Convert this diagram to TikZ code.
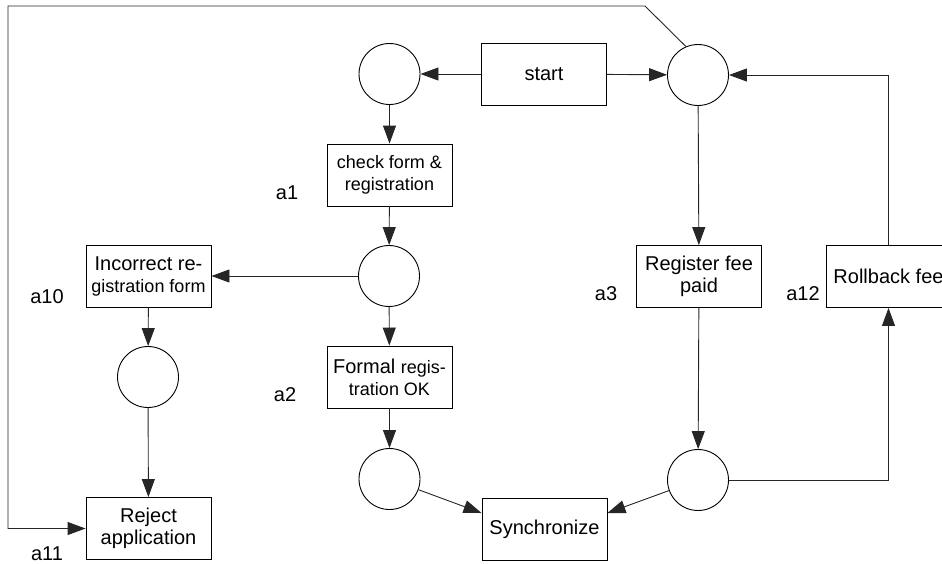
\documentclass[tikz,border=0pt]{standalone}
\usepackage{fontspec}
\setmainfont{Liberation Sans}
\usetikzlibrary{positioning,arrows.meta,calc}
\newcommand{\shrink}[1]{{\fontsize{18}{22}\selectfont #1}}

\begin{document}
\begin{tikzpicture}[
  x=1pt, y=-1pt,
  font=\fontsize{20}{22}\selectfont,
  place/.style={circle, draw, line width=0.9pt, minimum size=61pt, inner sep=0pt},
  trans/.style={draw, line width=0.9pt, minimum width=125pt, minimum height=62pt, align=center, inner sep=1pt},
  lbl/.style={inner sep=0pt},
  arr/.style={-{Triangle[length=18pt, width=13pt]}, line width=0.9pt, draw=black!85}]
  \useasboundingbox (0,0) rectangle (942,563);
  \clip (0,0) rectangle (942,563);
  % transitions
  \node[trans] (start) at (544,74) {start};
  \node[trans] (chk) at (389.5,175) {\shrink{check form \&}\\\shrink{registration}};
  \node[trans] (inc) at (148.5,276) {Incorrect re-\\\shrink{gistration form}};
  \node[trans] (rej) at (148.5,528.5) {Reject\\application};
  \node[trans] (fok) at (389.5,377) {Formal \shrink{regis-}\\\shrink{tration OK}};
  \node[trans] (sync) at (544.5,529) {Synchronize};
  \node[trans] (reg) at (699,276.5) {Register fee\\paid};
  \node[trans] (rb) at (888.5,276.5) {Rollback fee};
  % places
  \node[place] (pS) at (389.5,74) {};
  \node[place] (pR) at (698,75) {};
  \node[place] (pC) at (389,276) {};
  \node[place] (pI) at (148,377) {};
  \node[place] (pF) at (389.5,479) {};
  \node[place] (pG) at (698,480) {};
  % activity labels
  \node[lbl] (la1) at (287,193) {a1};
  \node[lbl] (la2) at (285,395) {a2};
  \node[lbl] (la3) at (606,294) {a3};
  \node[lbl] (la10) at (47,297) {a10};
  \node[lbl] (la11) at (47,554) {a11};
  \node[lbl] (la12) at (803,294) {a12};
  \coordinate (bend) at (645,6);
  \coordinate (corner) at (8,6);
  % arcs
  \draw[arr] (start) -- (pS);
  \draw[arr] (start) -- (pR);
  \draw[arr] (pS) -- (chk);
  \draw[arr] (chk) -- (pC);
  \draw[arr] (pC) -- (inc);
  \draw[arr] (pC) -- (fok);
  \draw[arr] (inc) -- (pI);
  \draw[arr] (pI) -- (rej);
  \draw[arr] (fok) -- (pF);
  \draw[arr] (pF) -- ([yshift=16pt]sync.west);
  \draw[arr] (pR) -- (reg);
  \draw[arr] (reg) -- (pG);
  \draw[arr] (pG) -- ([yshift=16pt]sync.east);
  \draw[arr] (pG.east) -| (rb.south);
  \draw[arr] (rb.north) |- (pR.east);
  \draw[arr] (pR.113) -- (bend) -- (corner) |- (rej.west);
\end{tikzpicture}
\end{document}
